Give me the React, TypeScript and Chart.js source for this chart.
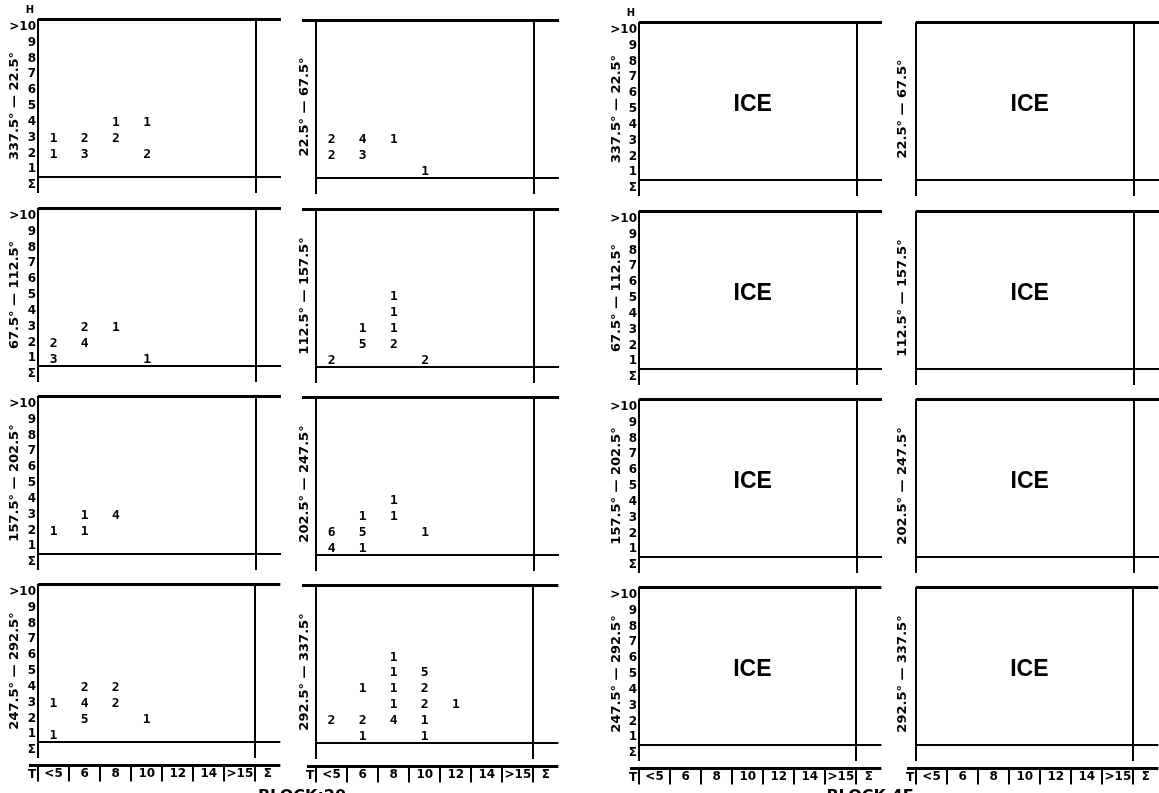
import React, { useEffect, useRef } from 'react';
import { Chart, registerables } from 'chart.js';

Chart.register(...registerables);

// ---------- categories / tick labels ----------
const T_LABELS = ['<5', '6', '8', '10', '12', '14', '>15', 'Σ'];
const H_LABELS = ['Σ', '1', '2', '3', '4', '5', '6', '7', '8', '9', '>10'];
const SECTORS = [
  '337.5° — 22.5°',
  '22.5° — 67.5°',
  '67.5° — 112.5°',
  '112.5° — 157.5°',
  '157.5° — 202.5°',
  '202.5° — 247.5°',
  '247.5° — 292.5°',
  '292.5° — 337.5°',
];
const BLOCK_TITLES = ['BLOCK:20', 'BLOCK 4F'];

// ---------- counts, block 20: [T index, H index, count] ----------
const B20_337_22 = [[0, 3, 1], [0, 2, 1], [1, 3, 2], [1, 2, 3], [2, 4, 1], [2, 3, 2], [3, 4, 1], [3, 2, 2]];
const B20_22_67 = [[0, 3, 2], [0, 2, 2], [1, 3, 4], [1, 2, 3], [2, 3, 1], [3, 1, 1]];
const B20_67_112 = [[0, 2, 2], [0, 1, 3], [1, 3, 2], [1, 2, 4], [2, 3, 1], [3, 1, 1]];
const B20_112_157 = [[0, 1, 2], [1, 3, 1], [1, 2, 5], [2, 5, 1], [2, 4, 1], [2, 3, 1], [2, 2, 2], [3, 1, 2]];
const B20_157_202 = [[0, 2, 1], [1, 3, 1], [1, 2, 1], [2, 3, 4]];
const B20_202_247 = [[0, 2, 6], [0, 1, 4], [1, 3, 1], [1, 2, 5], [1, 1, 1], [2, 4, 1], [2, 3, 1], [3, 2, 1]];
const B20_247_292 = [[0, 3, 1], [0, 1, 1], [1, 4, 2], [1, 3, 4], [1, 2, 5], [2, 4, 2], [2, 3, 2], [3, 2, 1]];
const B20_292_337 = [
  [0, 2, 2], [1, 4, 1], [1, 2, 2], [1, 1, 1],
  [2, 6, 1], [2, 5, 1], [2, 4, 1], [2, 3, 1], [2, 2, 4],
  [3, 5, 5], [3, 4, 2], [3, 3, 2], [3, 2, 1], [3, 1, 1],
  [4, 3, 1],
];
const BLOCK_20 = [B20_337_22, B20_22_67, B20_67_112, B20_112_157, B20_157_202, B20_202_247, B20_247_292, B20_292_337];

// ---------- block 4F: every sector is ice covered ----------
const BLOCK_4F = ['ICE', 'ICE', 'ICE', 'ICE', 'ICE', 'ICE', 'ICE', 'ICE'];

// ---------- layout / style constants ----------
const INK = '#000';
const COL_LEFT = [38, 316, 639, 916];
const COL_DY = [0, 1, 3, 3];
const ROW_TOP = [19, 208, 396, 584];
const TITLE_PAD = [7, 19, 8, 17];
const TOPLINE_EXT = [0, 14, 0, 0];
const AXIS_W = 38;
const PLOT_W = 243;
const PLOT_H = 174;
const TOP_PAD = 19;
const BOTTOM_PAD = 12;
const PAGE_H = 793;
const SIGMA_T = 6.9;
const ICE_T = 3.15;
const ICE_H = 5.35;
const TICK_FONT = { family: 'DejaVu Sans', weight: 'bold' as const, size: 12 };
const TITLE_FONT = { family: 'DejaVu Sans', weight: 'bold' as const, size: 13 };

type Panel = {
  col: number;
  row: number;
  sector: number;
  points: { x: number; y: number; label: string }[];
  left: number;
  top: number;
  w: number;
  h: number;
};

const PANELS: Panel[] = [];
for (let b = 0; b < 2; b++) {
  for (let r = 0; r < 4; r++) {
    for (let cc = 0; cc < 2; cc++) {
      const c = b * 2 + cc;
      const s = r * 2 + cc;
      const points =
        b === 0
          ? BLOCK_20[s].map(([t, hh, n]) => ({ x: t, y: hh, label: String(n) }))
          : [{ x: ICE_T, y: ICE_H, label: BLOCK_4F[s] }];
      const top = ROW_TOP[r] + COL_DY[c] - TOP_PAD;
      const h = r === 3 ? PAGE_H - top : TOP_PAD + PLOT_H + BOTTOM_PAD;
      PANELS.push({ col: c, row: r, sector: s, points, left: COL_LEFT[c] - AXIS_W, top, w: AXIS_W + PLOT_W, h });
    }
  }
}

const panelPlugin = {
  id: 'panel',
  beforeDatasetsDraw(chart: any, _args: any, opts: any) {
    const { ctx, chartArea: ca } = chart;
    const x = chart.scales.x;
    const y = chart.scales.y;
    const left = x.getPixelForValue(-0.5);
    const right = ca.right;
    const top = y.getPixelForValue(10.5);
    const bottom = y.getPixelForValue(-0.5);
    const base = Math.round(y.getPixelForValue(0.5));
    const sig = Math.round(x.getPixelForValue(6.5));
    const line = (x1: number, y1: number, x2: number, y2: number, w: number) => {
      ctx.lineWidth = w;
      ctx.beginPath();
      ctx.moveTo(x1, y1);
      ctx.lineTo(x2, y2);
      ctx.stroke();
    };
    ctx.save();
    ctx.strokeStyle = INK;
    ctx.fillStyle = INK;
    line(left - TOPLINE_EXT[opts.col], top + 0.5, right, top + 0.5, 3);
    line(left, top, left, bottom, 2);
    line(left, base, right, base, 2);
    line(sig, top, sig, bottom, 2);
    if (opts.showH) {
      ctx.font = 'bold 10px "DejaVu Sans"';
      ctx.textAlign = 'center';
      ctx.textBaseline = 'middle';
      ctx.fillText('H', left - 8, top - 9);
    }
    if (opts.row === 3) {
      const bandY = Math.round(bottom) + 7.5;
      line(left - 9, bandY, right, bandY, 3);
      for (let k = 0; k < 8; k++) {
        const xk = Math.round(x.getPixelForValue(k - 0.5));
        line(xk, bandY, xk, bandY + 16, 2);
      }
      ctx.font = 'bold 12px "DejaVu Sans"';
      ctx.textAlign = 'center';
      ctx.textBaseline = 'middle';
      ctx.fillText('T', left - 6, bandY + 9);
    }
    ctx.restore();
  },
  afterDatasetsDraw(chart: any) {
    const { ctx } = chart;
    ctx.save();
    ctx.fillStyle = INK;
    ctx.textAlign = 'center';
    ctx.textBaseline = 'middle';
    chart.data.datasets.forEach((ds: any, di: number) => {
      const meta = chart.getDatasetMeta(di);
      meta.data.forEach((el: any, i: number) => {
        const lbl = ds.data[i].label;
        ctx.font = lbl.length > 2 ? 'bold 23px "Liberation Sans"' : 'bold 13px "DejaVu Sans Mono"';
        ctx.fillText(lbl, el.x, el.y + 1);
      });
    });
    ctx.restore();
  },
};

function makeConfig(p: Panel): any {
  const showTicks = p.col === 0 || p.col === 2;
  const bottomH = p.h - TOP_PAD - PLOT_H;
  return {
    type: 'scatter',
    data: {
      datasets: [{ data: p.points, pointRadius: 0, pointHoverRadius: 0, showLine: false }],
    },
    plugins: [panelPlugin],
    options: {
      animation: false,
      responsive: false,
      devicePixelRatio: 1,
      events: [],
      layout: { padding: { top: TOP_PAD, left: 0, right: 0, bottom: 0 } },
      plugins: {
        legend: { display: false },
        tooltip: { enabled: false },
        panel: { col: p.col, row: p.row, showH: showTicks && p.row === 0 },
      },
      scales: {
        x: {
          type: 'linear',
          min: -0.5,
          max: 7.3,
          display: p.row === 3,
          grid: { display: false, drawTicks: false },
          border: { display: false },
          afterBuildTicks: (axis: any) => {
            axis.ticks = T_LABELS.map((_, i) => ({ value: i < 7 ? i : SIGMA_T }));
          },
          afterFit: (axis: any) => {
            axis.height = bottomH;
          },
          ticks: {
            autoSkip: false,
            maxRotation: 0,
            minRotation: 0,
            padding: 9,
            color: INK,
            font: TICK_FONT,
            callback: (_v: any, i: number) => T_LABELS[i],
          },
        },
        y: {
          type: 'linear',
          min: -0.5,
          max: 10.5,
          display: true,
          grid: { display: false, drawTicks: false },
          border: { display: false },
          afterBuildTicks: (axis: any) => {
            axis.ticks = H_LABELS.map((_, i) => ({ value: i }));
          },
          afterFit: (axis: any) => {
            axis.width = AXIS_W;
          },
          ticks: {
            display: showTicks,
            autoSkip: false,
            padding: 2,
            color: INK,
            font: TICK_FONT,
            callback: (v: any) => H_LABELS[v] ?? '',
          },
          title: {
            display: true,
            text: SECTORS[p.sector],
            color: INK,
            font: TITLE_FONT,
            padding: { top: TITLE_PAD[p.col], bottom: 0 },
          },
        },
      },
    },
  };
}

export default function App() {
  const refs = useRef<(HTMLCanvasElement | null)[]>([]);
  useEffect(() => {
    const charts = PANELS.map((p, i) => new Chart(refs.current[i] as HTMLCanvasElement, makeConfig(p)));
    return () => charts.forEach((c) => c.destroy());
  }, []);
  return (
    <div
      style={{
        position: 'absolute',
        left: 0,
        top: 0,
        width: 1159,
        height: PAGE_H,
        overflow: 'hidden',
        background: '#fff',
      }}
    >
      {PANELS.map((p, i) => (
        <canvas
          key={i}
          ref={(el) => {
            refs.current[i] = el;
          }}
          width={p.w}
          height={p.h}
          style={{ position: 'absolute', left: p.left, top: p.top, width: p.w, height: p.h }}
        />
      ))}
      {BLOCK_TITLES.map((t, i) => (
        <div
          key={t}
          style={{
            position: 'absolute',
            left: (i === 0 ? 302 : 870) - 80,
            width: 160,
            top: 788,
            textAlign: 'center',
            font: 'bold 16px "DejaVu Sans"',
            lineHeight: '16px',
            color: INK,
            whiteSpace: 'nowrap',
          }}
        >
          {t}
        </div>
      ))}
    </div>
  );
}
